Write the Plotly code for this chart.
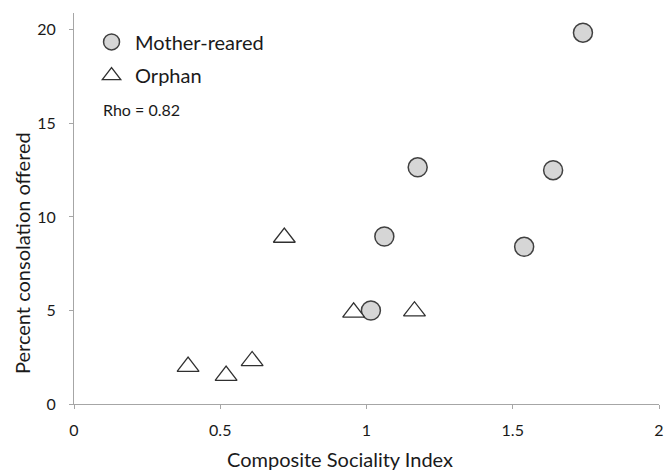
import plotly.graph_objects as go

mother_x = [1.74, 1.175, 1.638, 1.061, 1.539, 1.015]
mother_y = [19.85, 12.65, 12.5, 8.95, 8.4, 5.0]
orphan_x = [0.39, 0.52, 0.609, 0.719, 0.956, 1.164]
orphan_y = [2.0, 1.52, 2.3, 8.9, 4.9, 4.96]
x_ticks = [0, 0.5, 1, 1.5, 2]
x_tick_labels = ["0", "0.5", "1", "1.5", "2"]
y_ticks = [0, 5, 10, 15, 20]

font_family = "Lato, Open Sans, sans-serif"
txt = "#1a1a1a"

fig = go.Figure()
fig.add_trace(go.Scatter(
    x=mother_x, y=mother_y, mode="markers", name="Mother-reared",
    legend="legend",
    marker=dict(symbol="circle", size=19, color="#d6d6d6",
                line=dict(color="#404040", width=1.5)),
))
fig.add_trace(go.Scatter(
    x=orphan_x, y=orphan_y, mode="markers", name="Orphan",
    legend="legend2",
    marker=dict(symbol="triangle-up", size=19, color="white",
                line=dict(color="#303030", width=1.3)),
))

fig.add_annotation(x=0.046, y=0.752, xref="paper", yref="paper",
                   text="Rho = 0.82", showarrow=False, xanchor="left",
                   yanchor="middle", font=dict(size=16, color=txt, family=font_family))
fig.add_annotation(x=0.455, y=-0.14, xref="paper", yref="paper",
                   text="Composite Sociality Index", showarrow=False,
                   xanchor="center", yanchor="middle",
                   font=dict(size=20, color=txt, family=font_family))
fig.add_annotation(x=-0.088, y=0.385, xref="paper", yref="paper",
                   text="Percent consolation offered", showarrow=False,
                   textangle=-90, xanchor="center", yanchor="middle",
                   font=dict(size=20, color=txt, family=font_family))

leg_common = dict(xanchor="left", yanchor="middle", bgcolor="rgba(0,0,0,0)",
                  itemwidth=37,
                  font=dict(size=20, color=txt, family=font_family))

fig.update_layout(
    width=669, height=472,
    margin=dict(l=74, r=5, t=13, b=68),
    paper_bgcolor="white", plot_bgcolor="white",
    font=dict(family=font_family, color=txt),
    showlegend=True,
    legend=dict(x=0.024, y=0.926, **leg_common),
    legend2=dict(x=0.024, y=0.84, **leg_common),
    xaxis=dict(range=[0, 2], tickvals=x_ticks, ticktext=x_tick_labels,
               showgrid=False, zeroline=False, showline=True,
               linecolor="#a6a6a6", linewidth=1, ticks="outside",
               ticklen=4, tickcolor="#a6a6a6", ticklabelstandoff=8,
               tickfont=dict(size=16, color=txt)),
    yaxis=dict(range=[0, 20.9], tickvals=y_ticks,
               showgrid=False, zeroline=False, showline=True,
               linecolor="#a6a6a6", linewidth=1, ticks="outside",
               ticklen=4, tickcolor="#a6a6a6", ticklabelstandoff=10,
               tickfont=dict(size=16, color=txt)),
)

fig.write_html("out.html", config={"displayModeBar": False},
               post_script="document.body.style.margin='0';")
